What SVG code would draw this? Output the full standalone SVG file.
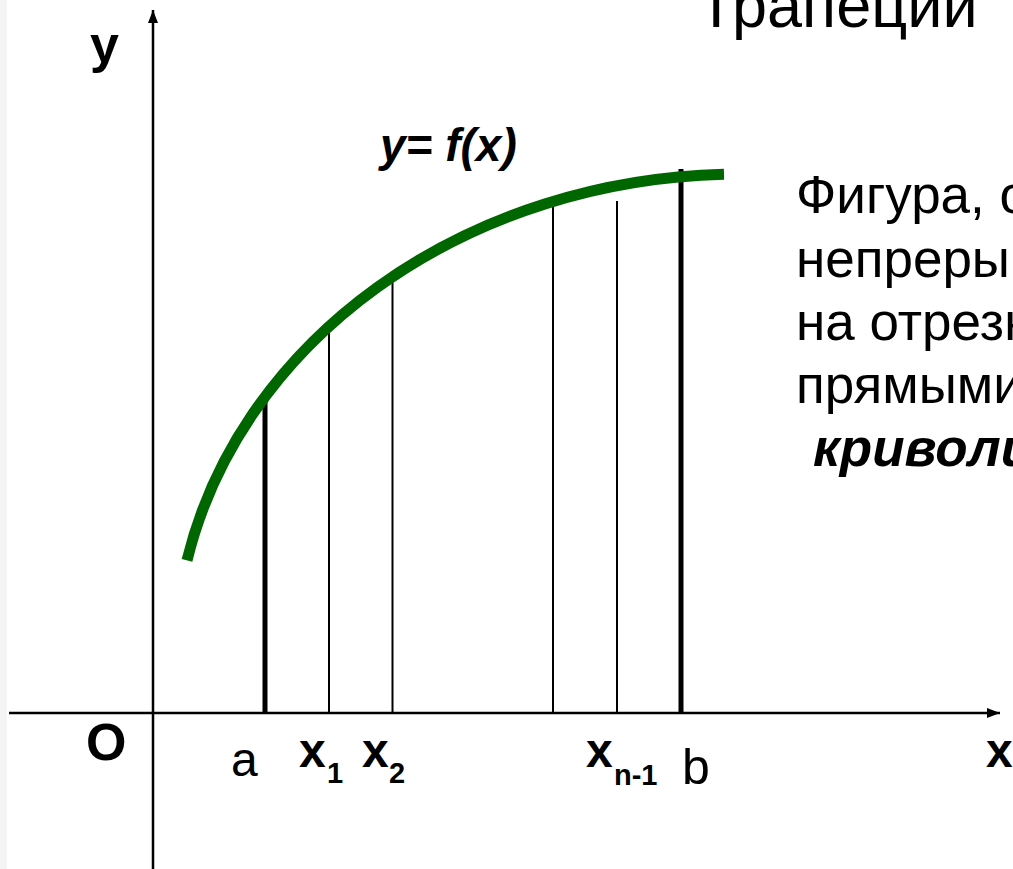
<svg xmlns="http://www.w3.org/2000/svg" width="1013" height="869" viewBox="0 0 1013 869">
<style>
.t{font-family:"Liberation Sans",Arial,sans-serif;fill:#000}
.b{font-weight:bold}
.bi{font-weight:bold;font-style:italic}
.axis{stroke:#000;stroke-width:2.5;fill:none}
.thin{stroke:#000;stroke-width:2;fill:none}
.thick{stroke:#000;stroke-width:5;fill:none}
.curve{stroke:#006600;stroke-width:11;fill:none;stroke-linecap:butt}
.desc{font-size:53px}
</style>
<defs>
<marker id="arr" markerUnits="userSpaceOnUse" markerWidth="14" markerHeight="12" refX="13" refY="5" orient="auto">
<path d="M0,0 L13,5 L0,10 Z" fill="#000"/>
</marker>
</defs>
<rect x="0" y="0" width="1013" height="869" fill="#fff"/>
<rect x="0" y="0" width="7" height="869" fill="#f4f4f4"/>
<g id="connectors">
<line class="axis" x1="9" y1="713" x2="1000" y2="713" marker-end="url(#arr)"/>
<line class="axis" x1="153" y1="869" x2="153" y2="10" marker-end="url(#arr)"/>
<line class="thick" x1="265" y1="393" x2="265" y2="713"/>
<line class="thin" x1="329" y1="329" x2="329" y2="713"/>
<line class="thin" x1="392.5" y1="281" x2="392.5" y2="713"/>
<line class="thin" x1="553" y1="201" x2="553" y2="713"/>
<line class="thin" x1="617" y1="201" x2="617" y2="713"/>
<line class="thick" x1="681" y1="169" x2="681" y2="713"/>
</g>
<g id="curve">
<path class="curve" d="M187,560.4 A565,486 0 0 1 724,174.2"/>
</g>
<g id="labels">
<text class="t b" x="90" y="62" font-size="52">y</text>
<text class="t b" x="86" y="760" font-size="52">O</text>
<text class="t" x="231" y="776" font-size="48">a</text>
<text class="t b" x="299" y="767" font-size="48">x<tspan x="327" y="783" font-size="29">1</tspan></text>
<text class="t b" x="362" y="767" font-size="48">x<tspan x="389" y="783" font-size="29">2</tspan></text>
<text class="t b" x="586" y="767" font-size="48">x<tspan x="614" y="785" font-size="29">n-1</tspan></text>
<text class="t" x="682" y="784" font-size="50">b</text>
<text class="t b" x="986" y="767" font-size="48">x</text>
<text class="t bi" x="380" y="161" font-size="46">y= f(x)</text>
</g>
<g id="title">
<text class="t" x="697" y="27" font-size="63">Трапеции</text>
</g>
<g id="description">
<text class="t desc" x="796" y="213">Фигура, о</text>
<text class="t desc" x="796" y="277">непреры</text>
<text class="t desc" x="796" y="340">на отрезк</text>
<text class="t desc" x="796" y="403">прямыми</text>
<text class="t bi desc" x="813" y="466">криволи</text>
</g>
</svg>
